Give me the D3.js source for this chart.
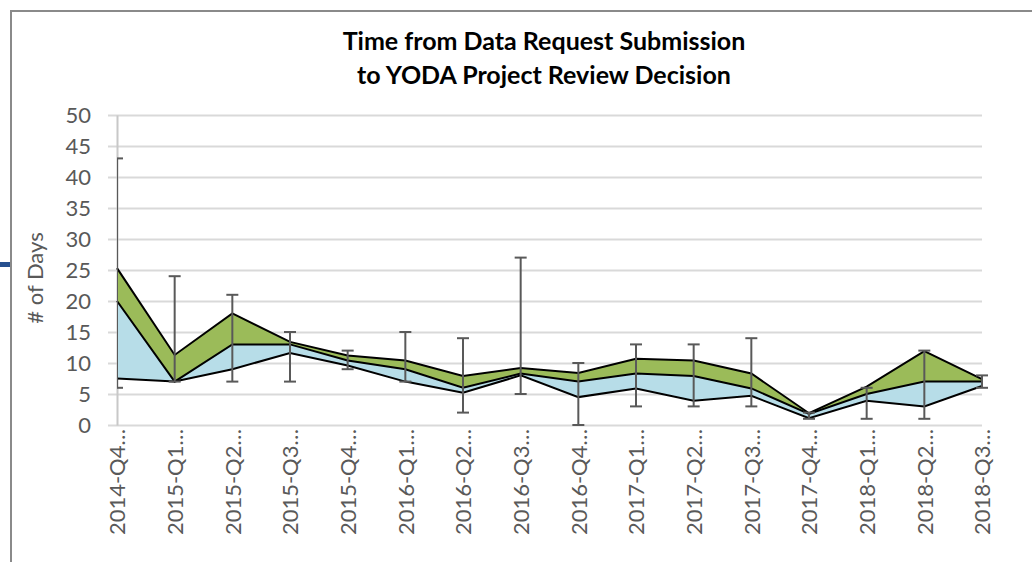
<!DOCTYPE html>
<html>
<head>
<meta charset="utf-8">
<script src="https://cdn.jsdelivr.net/npm/d3@7"></script>
<style>
  body { margin: 0; background: #fff; }
  svg { display: block; font-family: Lato, "Open Sans", sans-serif; }
</style>
</head>
<body>
<div id="chart"></div>
<script>
// quarter labels as shown (truncated in the original)
const quarters = ["2014-Q4…", "2015-Q1…", "2015-Q2…", "2015-Q3…", "2015-Q4…", "2016-Q1…",
  "2016-Q2…", "2016-Q3…", "2016-Q4…", "2017-Q1…", "2017-Q2…", "2017-Q3…",
  "2017-Q4…", "2018-Q1…", "2018-Q2…", "2018-Q3…"];
const lower = [7.5, 7.0, 9.0, 11.6, 9.6, 7.0, 5.2, 8.0, 4.5, 5.9, 3.9, 4.7, 1.1, 3.9, 3.0, 6.3];
const middle = [20, 7.0, 13.0, 13.0, 10.4, 9.0, 6.0, 8.3, 7.0, 8.3, 7.9, 5.9, 1.8, 5.0, 7.0, 7.0];
const upper = [25.3, 11.3, 18.0, 13.4, 11.2, 10.4, 7.9, 9.2, 8.4, 10.7, 10.4, 8.3, 1.9, 6.2, 11.9, 7.4];
const errLow = [6, 7, 7, 7, 9, 7, 2, 5, 0, 3, 3, 3, 1, 1, 1, 6];
const errHigh = [43, 24, 21, 15, 12, 15, 14, 27, 10, 13, 13, 14, 2, 6, 12, 8];
const yTicks = [0, 5, 10, 15, 20, 25, 30, 35, 40, 45, 50];

const w = 1032;
const h = 562;
const plotL = 117, plotR = 982, plotT = 115, plotB = 425;

const data = quarters.map((q, i) => ({
  q: q, lo: lower[i], mid: middle[i], up: upper[i], eLo: errLow[i], eHi: errHigh[i]
}));

const svg = d3.select("#chart").append("svg").attr("width", w).attr("height", h);

// frame of the original slide
svg.append("path")
  .attr("d", "M11,562 V11 H1032")
  .attr("fill", "none")
  .attr("stroke", "#8a8a8a")
  .attr("stroke-width", 2);
svg.append("rect")
  .attr("x", 0).attr("y", 262).attr("width", 10).attr("height", 5)
  .attr("fill", "#27508f");

const x = d3.scalePoint().domain(quarters).range([plotL, plotR]);
const y = d3.scaleLinear().domain([0, 50]).range([plotB, plotT]);

// gridlines
svg.append("g")
  .attr("transform", "translate(" + plotR + ",0)")
  .call(d3.axisLeft(y).tickValues(yTicks).tickSize(plotR - 108).tickFormat(""))
  .call((g) => g.select(".domain").remove())
  .selectAll("line")
  .attr("stroke", "#d9d9d9")
  .attr("stroke-width", 2);

// y axis line + labels
const yAxis = svg.append("g")
  .attr("transform", "translate(" + plotL + ",0)")
  .call(d3.axisLeft(y).tickValues(yTicks).tickSize(0).tickPadding(26));
yAxis.select(".domain").attr("stroke", "#c8c8c8").attr("stroke-width", 2);
yAxis.selectAll("text")
  .attr("fill", "#595959")
  .style("font-size", "22px")
  .style("font-family", "Lato, sans-serif");

// x axis labels
const xAxis = svg.append("g")
  .attr("transform", "translate(0," + plotB + ")")
  .call(d3.axisBottom(x).tickSize(0));
xAxis.select(".domain").remove();
xAxis.selectAll("text")
  .attr("fill", "#595959")
  .style("font-size", "22px")
  .style("font-family", "Lato, sans-serif")
  .attr("text-anchor", "end")
  .attr("transform", "rotate(-90)")
  .attr("x", -4)
  .attr("y", 0)
  .attr("dy", "0.36em");

// areas
const blue = d3.area()
  .x((d) => x(d.q))
  .y0((d) => y(d.lo))
  .y1((d) => y(d.mid));
const green = d3.area()
  .x((d) => x(d.q))
  .y0((d) => y(d.mid))
  .y1((d) => y(d.up));
svg.append("path").datum(data).attr("d", blue).attr("fill", "#b7dde8");
svg.append("path").datum(data).attr("d", green).attr("fill", "#9bbb59");

["lo", "mid", "up"].forEach((k) => {
  svg.append("path")
    .datum(data)
    .attr("d", d3.line().x((d) => x(d.q)).y((d) => y(d[k])))
    .attr("fill", "none")
    .attr("stroke", "#000")
    .attr("stroke-width", 2)
    .attr("stroke-linejoin", "miter");
});

// error bars
svg.append("clipPath").attr("id", "plotclip")
  .append("rect")
  .attr("x", plotL).attr("y", 0).attr("width", plotR - plotL + 10).attr("height", h);

const eb = svg.append("g")
  .attr("clip-path", "url(#plotclip)")
  .attr("stroke", "#595959")
  .attr("stroke-width", 2)
  .selectAll("g")
  .data(data)
  .enter()
  .append("g");
eb.append("line")
  .attr("x1", (d) => x(d.q)).attr("x2", (d) => x(d.q))
  .attr("y1", (d) => y(d.eLo)).attr("y2", (d) => y(d.eHi));
eb.append("line")
  .attr("x1", (d) => x(d.q) - 6).attr("x2", (d) => x(d.q) + 6)
  .attr("y1", (d) => y(d.eLo)).attr("y2", (d) => y(d.eLo));
eb.append("line")
  .attr("x1", (d) => x(d.q) - 6).attr("x2", (d) => x(d.q) + 6)
  .attr("y1", (d) => y(d.eHi)).attr("y2", (d) => y(d.eHi));

// title
const title = svg.append("text")
  .attr("x", 544)
  .attr("text-anchor", "middle")
  .attr("fill", "#000")
  .style("font-size", "25px")
  .style("font-weight", "bold");
title.append("tspan").attr("x", 544).attr("y", 50).text("Time from Data Request Submission");
title.append("tspan").attr("x", 544).attr("y", 84).text("to YODA Project Review Decision");

// y axis title
svg.append("text")
  .attr("transform", "translate(35,278) rotate(-90)")
  .attr("text-anchor", "middle")
  .attr("dy", "0.35em")
  .attr("fill", "#595959")
  .style("font-size", "22px")
  .text("# of Days");
</script>
</body>
</html>
